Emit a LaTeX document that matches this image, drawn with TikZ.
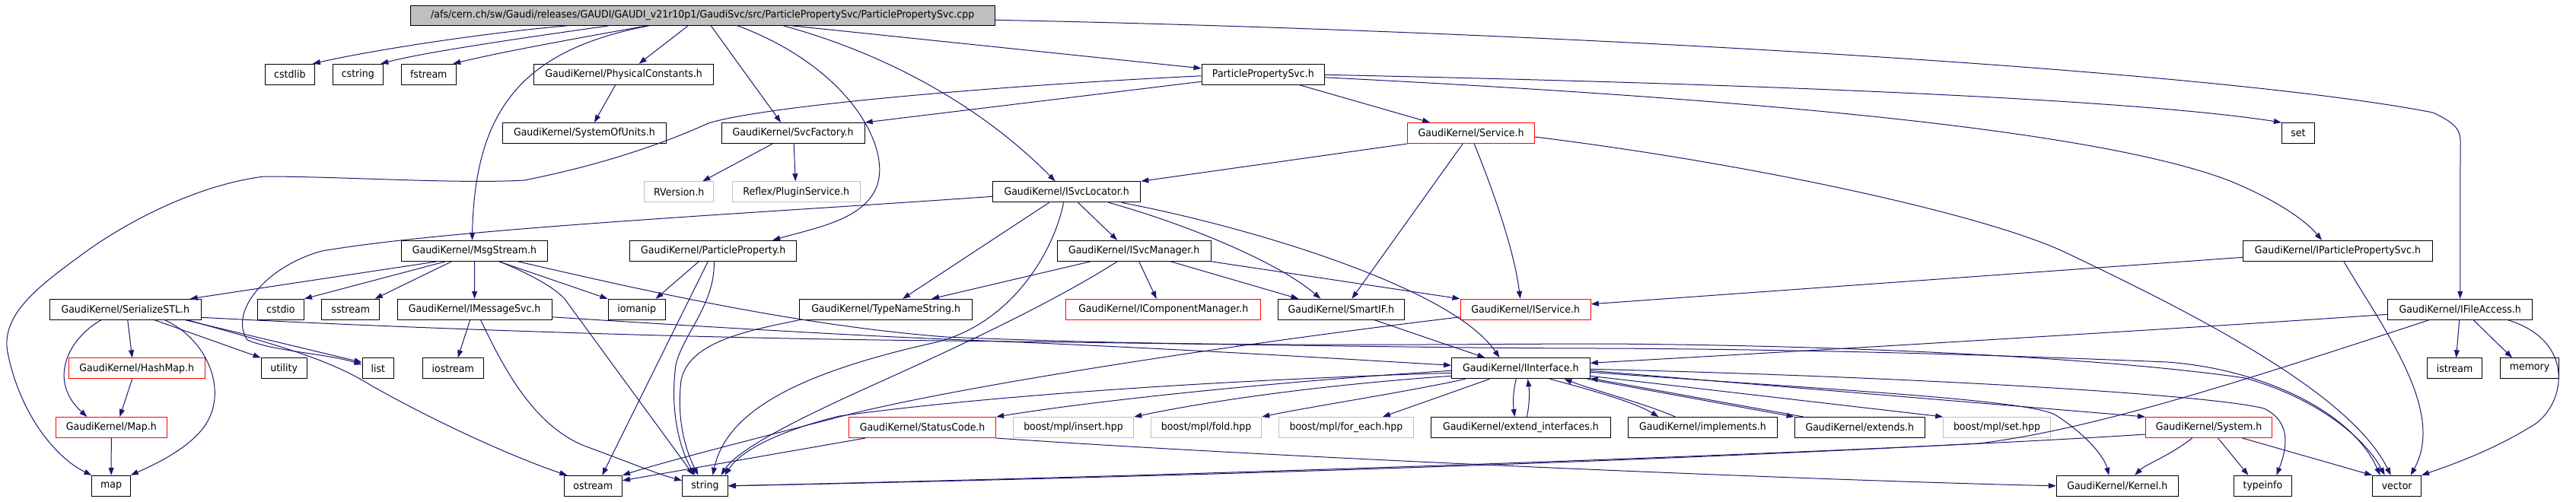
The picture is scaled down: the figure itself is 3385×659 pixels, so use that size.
\documentclass[tikz,border=0pt]{standalone}
\usepackage{fontspec}
\setmainfont{DejaVu Sans}[FakeStretch=0.93]
\usetikzlibrary{arrows.meta}
\definecolor{edgec}{HTML}{191970}
\definecolor{extgray}{HTML}{BFBFBF}
\definecolor{trunc}{HTML}{FF0000}
\newcommand\bx[6]{%
  \pgfmathsetmacro\bxc{(#3+#4)/2}%
  \pgfmathsetmacro\bxw{#4-#3}%
  \node[nbox,#1,minimum width=\bxw pt] (#2) at (\bxc,#5) {#6};}
\begin{document}
\begin{tikzpicture}[x=1pt,y=-1pt,
  nbox/.style={draw=black,line width=1pt,fill=white,minimum height=27pt,inner sep=0pt,
    font=\fontsize{13.5}{16}\selectfont},
  redbox/.style={draw=trunc},
  extbox/.style={draw=extgray},
  rootbox/.style={fill=extgray,minimum height=26pt},
  e/.style={draw=edgec,line width=1pt,-{Triangle[length=10pt,width=7pt]}}]
\useasboundingbox (0,0) rectangle (3385,659);
% row 0
\bx{rootbox}{root}{539.4}{1307}{20.3}{/afs/cern.ch/sw/Gaudi/releases/GAUDI/GAUDI\_v21r10p1/GaudiSvc/src/ParticlePropertySvc/ParticlePropertySvc.cpp}
% row 1
\bx{}{cstdlib}{348.6}{413.1}{97.8}{cstdlib}
\bx{}{cstring}{437.5}{503.1}{97.8}{cstring}
\bx{}{fstream}{527.5}{599}{97.8}{fstream}
\bx{}{physc}{701.5}{937.8}{97.8}{GaudiKernel/PhysicalConstants.h}
\bx{}{ppsvc}{1579}{1740.7}{97.8}{ParticlePropertySvc.h}
% row 2
\bx{}{sysu}{660.3}{875.5}{175}{GaudiKernel/SystemOfUnits.h}
\bx{}{svcf}{948.1}{1136.2}{175}{GaudiKernel/SvcFactory.h}
\bx{redbox}{service}{1849.6}{2016.6}{175}{GaudiKernel/Service.h}
\bx{}{stdset}{2998.4}{3041.5}{175}{set}
% row 3
\bx{extbox}{rver}{846.7}{937.8}{252.3}{RVersion.h}
\bx{extbox}{plugin}{962.2}{1130.3}{252.3}{Reflex/PluginService.h}
\bx{}{isvcloc}{1304.3}{1498.9}{252.3}{GaudiKernel/ISvcLocator.h}
% row 4
\bx{}{msg}{527.5}{719.4}{329.8}{GaudiKernel/MsgStream.h}
\bx{}{pprop}{827.8}{1046.8}{329.8}{GaudiKernel/ParticleProperty.h}
\bx{}{isvcman}{1389.4}{1591}{329.8}{GaudiKernel/ISvcManager.h}
\bx{}{ippsvc}{2947.3}{3196.5}{329.8}{GaudiKernel/IParticlePropertySvc.h}
% row 5
\bx{}{serial}{65}{264.5}{406.8}{GaudiKernel/SerializeSTL.h}
\bx{}{cstdio}{338.3}{399.5}{406.8}{cstdio}
\bx{}{sstream}{422.8}{498.7}{406.8}{sstream}
\bx{}{imsg}{522}{725.3}{406.8}{GaudiKernel/IMessageSvc.h}
\bx{}{iomanip}{799}{874.4}{406.8}{iomanip}
\bx{}{typename}{1050.6}{1277.7}{406.8}{GaudiKernel/TypeNameString.h}
\bx{redbox}{icomp}{1400.8}{1656.6}{406.8}{GaudiKernel/IComponentManager.h}
\bx{}{smartif}{1679.4}{1845.3}{406.8}{GaudiKernel/SmartIF.h}
\bx{redbox}{iservice}{1919}{2090.3}{406.8}{GaudiKernel/IService.h}
\bx{}{ifile}{3137.9}{3327.5}{406.8}{GaudiKernel/IFileAccess.h}
% row 6
\bx{redbox}{hashmap}{90}{269.4}{484.3}{GaudiKernel/HashMap.h}
\bx{}{utility}{343.1}{403.3}{484.3}{utility}
\bx{}{list}{476}{517.7}{484.3}{list}
\bx{}{iostream}{555.1}{635.3}{484.3}{iostream}
\bx{}{iinterface}{1907.6}{2089.2}{484.3}{GaudiKernel/IInterface.h}
\bx{}{istream}{3189.6}{3261.5}{484.3}{istream}
\bx{}{memory}{3285.4}{3362.6}{484.3}{memory}
% row 7
\bx{redbox}{gmap}{73.2}{219.5}{562}{GaudiKernel/Map.h}
\bx{redbox}{statusc}{1115.6}{1308.6}{562}{GaudiKernel/StatusCode.h}
\bx{extbox}{insert}{1331.4}{1489.7}{562}{boost/mpl/insert.hpp}
\bx{extbox}{fold}{1512.4}{1657.7}{562}{boost/mpl/fold.hpp}
\bx{extbox}{foreach}{1680.5}{1857.2}{562}{boost/mpl/for\_each.hpp}
\bx{}{extint}{1880.5}{2116.3}{562}{GaudiKernel/extend\_interfaces.h}
\bx{}{implements}{2139.6}{2335.3}{562}{GaudiKernel/implements.h}
\bx{}{extends}{2358.1}{2529.4}{562}{GaudiKernel/extends.h}
\bx{extbox}{sethpp}{2553.7}{2694.3}{562}{boost/mpl/set.hpp}
\bx{redbox}{system}{2819.5}{2985.6}{562}{GaudiKernel/System.h}
% row 8
\bx{}{stdmap}{120.9}{171.3}{638.8}{map}
\bx{}{ostream}{741}{817.5}{638.8}{ostream}
\bx{}{string}{896.6}{956.3}{638.8}{string}
\bx{}{kernel}{2702.3}{2862.1}{638.8}{GaudiKernel/Kernel.h}
\bx{}{typeinfo}{2935.6}{3011.2}{638.8}{typeinfo}
\bx{}{vector}{3117.7}{3181.6}{638.8}{vector}

% ---- edges from root
\draw[e] ([xshift=-178]root.south) .. controls (620,45) and (480,68) .. ([xshift=30]cstdlib.north);
\draw[e] ([xshift=-123]root.south) .. controls (700,48) and (560,68) .. ([xshift=30]cstring.north);
\draw[e] ([xshift=-73]root.south) .. controls (760,50) and (660,68) .. ([xshift=32]fstream.north);
\draw[e] ([xshift=-19]root.south) -- ([xshift=20]physc.north);
\draw[e] ([xshift=-70]root.south) .. controls (690,65) and (624,140) .. ([xshift=-3]msg.north);
\draw[e] ([xshift=11]root.south) -- ([xshift=-16]svcf.north);
\draw[e] ([xshift=46]root.south) .. controls (1120,90) and (1175,200) .. (1150,250) .. controls (1130,290) and (1070,300) .. ([xshift=78]pprop.north);
\draw[e] ([xshift=106]root.south) .. controls (1180,75) and (1300,150) .. ([xshift=-15]isvcloc.north);
\draw[e] ([xshift=117]root.south) -- ([yshift=8]ppsvc.west);
\draw[e] ([yshift=-6]root.east) .. controls (2000,40) and (2900,90) .. (3197,148) .. controls (3222,160) and (3233,168) .. (3233,185) -- (ifile.north);
% ---- PhysicalConstants
\draw[e] ([xshift=-11]physc.south) -- ([xshift=13]sysu.north);
% ---- ParticlePropertySvc.h
\draw[e] ([yshift=-2]ppsvc.west) .. controls (1300,113) and (1000,140) .. (931,162) .. controls (880,185) and (800,215) .. (689,237) .. controls (600,242) and (450,232) .. (347,232) .. controls (260,243) and (170,290) .. (114,330) .. controls (60,370) and (0,410) .. (10,463) .. controls (25,540) and (70,600) .. (stdmap.north west);
\draw[e] ([yshift=-9.5]ppsvc.west) -- (svcf.north east);
\draw[e] ([xshift=48]ppsvc.south) -- ([xshift=-54]service.north);
\draw[e] ([yshift=-0.5]ppsvc.east) .. controls (2300,110) and (2800,130) .. (stdset.north west);
\draw[e] ([yshift=-4]ppsvc.east) .. controls (2300,130) and (2750,170) .. (2928,237) .. controls (2990,262) and (3030,290) .. ([xshift=-21]ippsvc.north);
% ---- SvcFactory
\draw[e] ([xshift=-27]svcf.south) -- ([xshift=31]rver.north);
\draw[e] ([xshift=1]svcf.south) -- ([xshift=-1]plugin.north);
% ---- Service.h
\draw[e] (service.south west) -- (isvcloc.north east);
\draw[e] ([xshift=-11]service.south) -- ([xshift=14]smartif.north);
\draw[e] ([xshift=4]service.south) .. controls (1962,250) and (1990,330) .. ([xshift=-7]iservice.north);
\draw[e] ([yshift=-5]service.east) .. controls (2300,215) and (2600,280) .. (2710,330) .. controls (2900,420) and (3090,520) .. ([xshift=-8]vector.north);
% ---- ISvcLocator.h
\draw[e] ([yshift=-6]isvcloc.west) .. controls (1000,280) and (600,300) .. (423,330) .. controls (350,350) and (300,410) .. (325,447) .. controls (360,462) and (430,465) .. ([yshift=5]list.west);
\draw[e] ([xshift=-23]isvcloc.south) -- ([xshift=22]typename.north);
\draw[e] ([xshift=-4]isvcloc.south) .. controls (1385,330) and (1330,425) .. (1230,450) .. controls (1050,490) and (955,540) .. ([xshift=10]string.north);
\draw[e] ([xshift=15]isvcloc.south) -- ([xshift=-22]isvcman.north);
\draw[e] ([xshift=55]isvcloc.south) .. controls (1560,295) and (1680,345) .. ([xshift=-27]smartif.north);
\draw[e] ([xshift=72]isvcloc.south) .. controls (1650,300) and (1910,380) .. ([xshift=-28]iinterface.north);
% ---- ISvcManager.h
\draw[e] ([xshift=-57]isvcman.south) -- ([xshift=60]typename.north);
\draw[e] ([xshift=-22]isvcman.south) .. controls (1380,400) and (1250,460) .. (1150,505) .. controls (1050,550) and (970,590) .. ([xshift=21]string.north);
\draw[e] ([xshift=6.5]isvcman.south) -- ([xshift=-9]icomp.north);
\draw[e] ([xshift=48]isvcman.south) -- ([xshift=-56]smartif.north);
\draw[e] (isvcman.south east) -- (iservice.north west);
% ---- MsgStream.h
\draw[e] ([xshift=-49]msg.south) -- ([xshift=85]serial.north);
\draw[e] ([xshift=-38]msg.south) -- (cstdio.north east);
\draw[e] ([xshift=-30]msg.south) -- ([xshift=32]sstream.north);
\draw[e] (msg) -- (imsg);
\draw[e] ([xshift=32]msg.south) -- (iomanip.north west);
\draw[e] ([xshift=33]msg.south) .. controls (700,362) and (728,378) .. (742,393) -- ([xshift=-15]string.north);
\draw[e] ([xshift=57]msg.south) .. controls (850,383) and (1050,428) .. (1243,443) .. controls (1600,458) and (1900,452) .. (2112,452) .. controls (2500,455) and (2800,475) .. (2950,497) .. controls (3050,525) and (3110,580) .. ([xshift=-16]vector.north);
% ---- IMessageSvc.h
\draw[e] ([xshift=-6]imsg.south) -- ([xshift=6.5]iostream.north);
\draw[e] ([xshift=8]imsg.south) .. controls (660,480) and (700,560) .. (770,587) .. controls (820,605) and (860,622) .. ([yshift=7]string.west);
\draw[e] ([yshift=-10]imsg.east) .. controls (900,428) and (1100,440) .. (1243,446) .. controls (1500,456) and (1700,468) .. ([yshift=4]iinterface.west);
% ---- SerializeSTL.h
\draw[e] ([xshift=-32]serial.south) .. controls (90,445) and (62,500) .. ([xshift=-32]gmap.north);
\draw[e] ([xshift=3]serial.south) -- ([xshift=-6]hashmap.north);
\draw[e] ([xshift=38.5]serial.south) -- (utility.north west);
\draw[e] ([xshift=52]serial.south) .. controls (270,445) and (300,510) .. (271,557) .. controls (250,590) and (200,612) .. (stdmap.north east);
\draw[e] ([xshift=79]serial.south) -- ([yshift=8]list.west);
\draw[e] ([xshift=82]serial.south) .. controls (350,450) and (430,470) .. (488,507) .. controls (600,570) and (700,610) .. ([xshift=-34]ostream.north);
\draw[e] ([yshift=-10.5]serial.east) .. controls (500,430) and (900,445) .. (1243,448) .. controls (1600,452) and (1900,458) .. (2112,458) .. controls (2450,460) and (2700,470) .. (2848,476) .. controls (2970,485) and (3090,540) .. ([xshift=-22]vector.north);
% ---- HashMap, Map
\draw[e] ([xshift=-6]hashmap.south) -- ([xshift=11]gmap.north);
\draw[e] (gmap) -- (stdmap);
% ---- ParticleProperty.h
\draw[e] ([xshift=-19]pprop.south) -- ([xshift=25]iomanip.north);
\draw[e] ([xshift=-7]pprop.south) -- ([xshift=12]ostream.north);
\draw[e] ([xshift=1]pprop.south) .. controls (940,400) and (897,440) .. (888,480) .. controls (880,540) and (893,590) .. ([xshift=-13]string.north);
% ---- TypeNameString.h
\draw[e] (typename.south west) .. controls (980,435) and (905,450) .. (895,500) .. controls (888,560) and (905,600) .. ([xshift=-9]string.north);
% ---- SmartIF, IService, IParticlePropertySvc
\draw[e] ([xshift=44]smartif.south) -- ([xshift=-47]iinterface.north);
\draw[e] ([yshift=-10]iservice.west) .. controls (1600,455) and (1250,510) .. (1107,547) .. controls (1000,575) and (880,605) .. (ostream.north east);
\draw[e] ([yshift=-8.5]ippsvc.west) -- ([yshift=7]iservice.east);
\draw[e] ([xshift=8]ippsvc.south) .. controls (3130,430) and (3215,540) .. ([xshift=18]vector.north);
% ---- IInterface.h
\draw[e] ([yshift=-6]iinterface.west) .. controls (1600,500) and (1300,520) .. (1103,547) .. controls (1030,565) and (975,590) .. ([xshift=26]string.north);
\draw[e] ([yshift=-3]iinterface.west) .. controls (1700,500) and (1450,525) .. (statusc.north east);
\draw[e] ([yshift=-10]iinterface.west) .. controls (1750,505) and (1600,525) .. (insert.north east);
\draw[e] ([xshift=-73]iinterface.south) .. controls (1850,515) and (1720,535) .. (fold.north east);
\draw[e] ([xshift=-41]iinterface.south) -- ([xshift=48]foreach.north);
\draw[e] ([xshift=-6]iinterface.south) .. controls (1988,515) and (1988,530) .. ([xshift=-8]extint.north);
\draw[e] ([xshift=8]extint.north) .. controls (2010,530) and (2010,515) .. ([xshift=9]iinterface.south);
\draw[e] ([xshift=38]iinterface.south) .. controls (2100,515) and (2150,530) .. ([xshift=-58]implements.north);
\draw[e] ([xshift=-36]implements.north) .. controls (2160,530) and (2100,515) .. ([xshift=57]iinterface.south);
\draw[e] ([xshift=-4]iinterface.south east) -- (extends.north west);
\draw[e] ([xshift=-74]extends.north) -- ([yshift=-13]iinterface.east);
\draw[e] ([yshift=-10]iinterface.east) -- (sethpp.north west);
\draw[e] ([yshift=-3]iinterface.east) -- (system.north west);
\draw[e] ([yshift=-5]iinterface.east) .. controls (2400,512) and (2660,525) .. (2700,545) .. controls (2740,570) and (2765,600) .. ([xshift=-11]kernel.north);
\draw[e] ([yshift=-1]iinterface.east) .. controls (2500,495) and (2900,518) .. (2975,537) .. controls (3012,555) and (3005,590) .. ([xshift=18]typeinfo.north);
% ---- StatusCode.h
\draw[e] (statusc.south east) .. controls (1700,603) and (2400,632) .. (kernel.west);
\draw[e] ([xshift=-75]statusc.south) -- ([yshift=7]ostream.east);
% ---- System.h
\draw[e] ([xshift=-22]system.south) .. controls (2850,600) and (2820,610) .. ([xshift=23]kernel.north);
\draw[e] ([xshift=12]system.south) -- ([xshift=-19]typeinfo.north);
\draw[e] ([xshift=44]system.south) -- (vector.north west);
\draw[e] ([yshift=-9]system.west) .. controls (2500,592) and (1700,622) .. (string.east);
% ---- IFileAccess.h
\draw[e] ([yshift=-6.5]ifile.west) .. controls (2900,430) and (2400,460) .. ([yshift=7]iinterface.east);
\draw[e] ([xshift=-41]ifile.south) .. controls (2950,500) and (2750,565) .. (2600,583) .. controls (2000,615) and (1300,632) .. (string.east);
\draw[e] ([xshift=-1]ifile.south) -- ([xshift=2]istream.north);
\draw[e] ([xshift=17.6]ifile.south) -- ([xshift=-23]memory.north);
\draw[e] ([xshift=63]ifile.south) .. controls (3390,450) and (3370,540) .. (3322,563) .. controls (3270,595) and (3210,615) .. (vector.north east);
\end{tikzpicture}
\end{document}
